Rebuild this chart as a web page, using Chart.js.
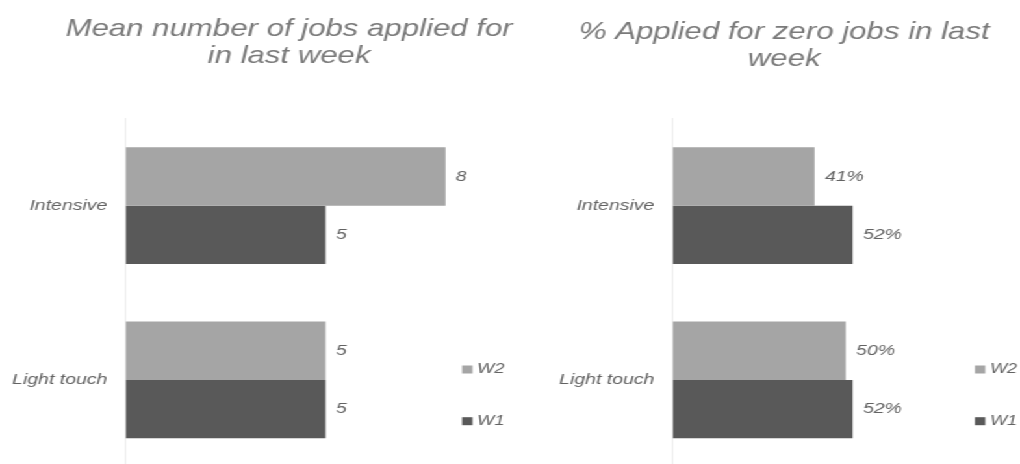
<!DOCTYPE html>
<html><head><meta charset="utf-8">
<script src="https://cdn.jsdelivr.net/npm/chart.js@4.4.0/dist/chart.umd.min.js"></script>
<style>
html,body{margin:0;padding:0;background:#fff;overflow:hidden;width:1020px;height:464px;}
#wrap{position:absolute;left:0;top:0;width:785px;height:470px;transform:scaleX(1.29936);transform-origin:0 0;}
#c1{position:absolute;left:0;top:0;}
#c2{position:absolute;left:423px;top:0;}
</style></head><body>
<div id="wrap"><canvas id="c1" width="445" height="470"></canvas><canvas id="c2" width="361" height="470"></canvas></div>
<script>
const categories = ['Intensive', 'Light touch'];
const seriesNames = ['W2', 'W1'];
const jobsW2 = [8, 5];
const jobsW1 = [5, 5];
const zeroW2 = [41, 50];
const zeroW1 = [52, 52];
const titleJobs = ['Mean number of jobs applied for', 'in last week'];
const titleZero = ['% Applied for zero jobs in last', 'week'];
const seriesColors = ['#a5a5a5', '#595959'];

const FAMILY = "'Liberation Sans', Arial, Helvetica, sans-serif";

function valueLabelPlugin(fmt) {
  return {
    id: 'valueLabels',
    afterDatasetsDraw(chart) {
      const ctx = chart.ctx;
      ctx.save();
      ctx.font = 'italic 15px ' + FAMILY;
      ctx.fillStyle = '#636363';
      ctx.textAlign = 'left';
      ctx.textBaseline = 'middle';
      chart.data.datasets.forEach((ds, di) => {
        const meta = chart.getDatasetMeta(di);
        meta.data.forEach((el, i) => {
          ctx.fillText(fmt(ds.data[i]), el.x + 8, el.y);
        });
      });
      ctx.restore();
    }
  };
}

function boxLegendPlugin(x, y, gap) {
  return {
    id: 'boxLegend',
    afterDraw(chart) {
      const ctx = chart.ctx;
      ctx.save();
      ctx.font = 'italic 14px ' + FAMILY;
      ctx.textAlign = 'left';
      ctx.textBaseline = 'middle';
      chart.data.datasets.forEach((ds, i) => {
        const cy = y + i * gap;
        ctx.fillStyle = ds.backgroundColor;
        ctx.fillRect(x, cy - 4, 8, 8);
        ctx.fillStyle = '#636363';
        ctx.fillText(ds.label, x + 11.6, cy);
      });
      ctx.restore();
    }
  };
}

function makeChart(canvas, title, w2, w1, fmt, xMax, axisWidth, padTop, padBottom, legX) {
  return new Chart(canvas, {
    type: 'bar',
    data: {
      labels: categories,
      datasets: [
        { label: seriesNames[0], data: w2, backgroundColor: seriesColors[0], borderWidth: 0 },
        { label: seriesNames[1], data: w1, backgroundColor: seriesColors[1], borderWidth: 0 }
      ]
    },
    options: {
      indexAxis: 'y',
      responsive: false,
      animation: false,
      devicePixelRatio: 1,
      layout: { padding: { top: 0, left: 0, right: 0, bottom: 3 } },
      datasets: { bar: { categoryPercentage: 0.67, barPercentage: 1 } },
      scales: {
        x: { display: false, min: 0, max: xMax },
        y: {
          grid: { display: false, drawTicks: false },
          border: { display: true, color: '#ebebeb', width: 1 },
          ticks: { padding: 14, color: '#636363', font: { family: FAMILY, size: 15, style: 'italic' } },
          afterFit: (s) => { s.width = axisWidth; s.paddingTop = 0; s.paddingBottom = 0; }
        }
      },
      plugins: {
        legend: { display: false },
        tooltip: { enabled: false },
        title: {
          display: true,
          text: title,
          color: '#7a7a7a',
          font: { family: FAMILY, size: 24, style: 'italic', weight: 'normal', lineHeight: 1.1 },
          padding: { top: padTop, bottom: padBottom }
        }
      }
    },
    plugins: [valueLabelPlugin(fmt), boxLegendPlugin(legX, 369.5, 51.7)]
  });
}

makeChart(document.getElementById('c1'), titleJobs, jobsW2, jobsW1, v => String(v), 11.32, 96.7, 16.5, 49.2, 355.6);
makeChart(document.getElementById('c2'), titleZero, zeroW2, zeroW1, v => v + '%', 100, 94.7, 19.5, 46.2, 327.3);
</script>
</body></html>
